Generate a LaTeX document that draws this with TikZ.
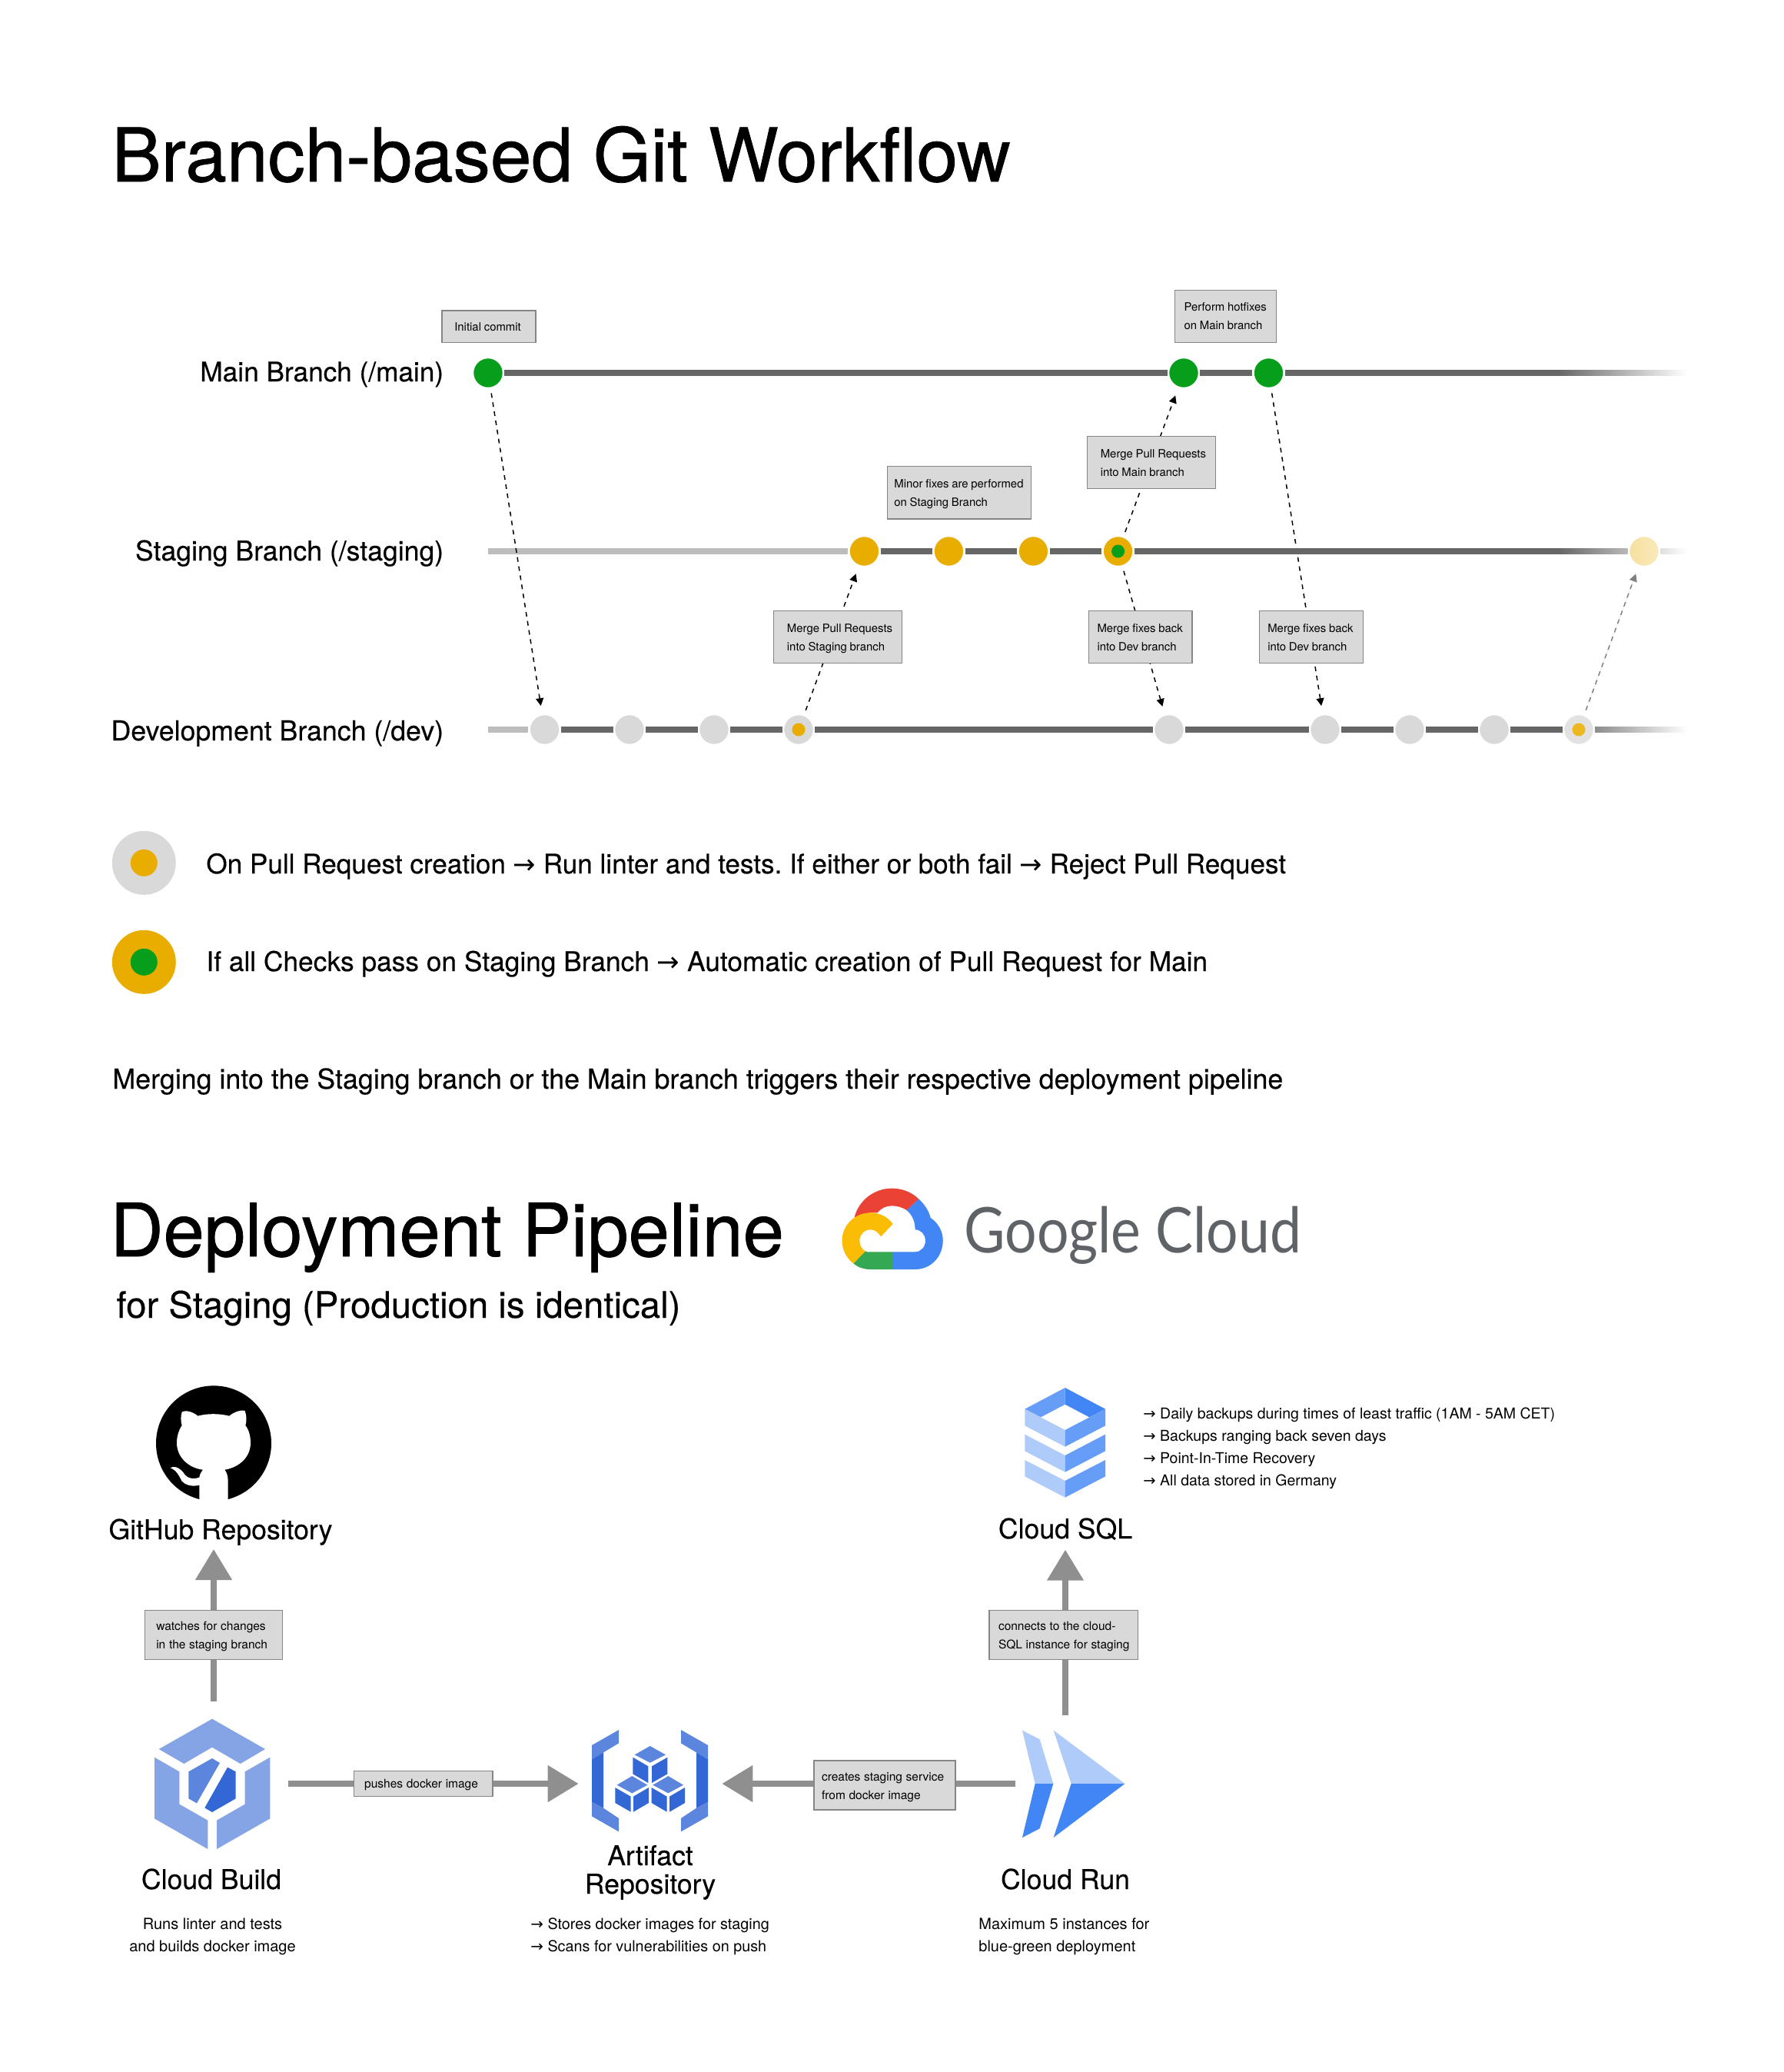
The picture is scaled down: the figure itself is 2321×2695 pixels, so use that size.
\documentclass[tikz,border=0pt]{standalone}
\usepackage{fontspec}
\setmainfont{TeX Gyre Heros}
\newfontfamily\arwfont{DejaVu Sans}
\newfontfamily\gcfont{Lato}
\newfontfamily\titlefont[FakeBold=0.8]{TeX Gyre Heros}
\newfontfamily\medfont[FakeBold=0.3]{TeX Gyre Heros}
\usetikzlibrary{arrows.meta}
\definecolor{gitgreen}{HTML}{069E1B}
\definecolor{gityel}{HTML}{E9AD00}
\definecolor{gitgray}{HTML}{D9D9D9}
\definecolor{gitline}{HTML}{666666}
\definecolor{gitlight}{HTML}{BDBDBD}
\definecolor{pipegray}{HTML}{8F8F8F}
\definecolor{boxedge}{HTML}{868686}
\definecolor{cbl}{HTML}{85A4E6}
\definecolor{cbm}{HTML}{5C85DE}
\definecolor{cbd}{HTML}{3367D6}
\definecolor{gbl}{HTML}{AECBFA}
\definecolor{gbm}{HTML}{669DF6}
\definecolor{gbd}{HTML}{4285F4}
\definecolor{gred}{HTML}{EA4335}
\definecolor{ggreen}{HTML}{34A853}
\definecolor{gyellow}{HTML}{FBBC05}
\definecolor{ggray}{HTML}{5F6368}
\newcommand{\rarr}{{\arwfont\char"2192}}
\newcommand{\lsa}[1]{\mbox{\rule[-2.75pt]{0pt}{11pt}#1}}
\newcommand{\lsb}[1]{\mbox{\rule[-3pt]{0pt}{12pt}#1}}
\newcommand{\gitf}{\fontsize{7.45}{11}\selectfont\spaceskip=.25em\relax}
\newcommand{\pipef}{\fontsize{7.75}{12}\selectfont\spaceskip=.3em\relax}
% name, x0, y0, W, H, pad, text (all px)
\newcommand{\lbox}[7]{%
  \pgfmathsetmacro\lbtw{(#4-2*#6)/2}%
  \node[lbox,anchor=north west,minimum width=#4*0.5pt,minimum height=#5*0.5pt,inner xsep=#6*0.5pt,text width=\lbtw pt] (#1) at (#2,#3) {#7};}
\tikzset{
  lbox/.style={rectangle,draw=boxedge,fill=gitgray,line width=0.7pt,inner ysep=0pt,align=left,outer sep=0pt},
  txt/.style={inner sep=0pt,anchor=base west},
  ctxt/.style={inner sep=0pt,anchor=base},
  rtxt/.style={inner sep=0pt,anchor=base east},
  iconlabel/.style={font=\fontsize{17.8}{18.5}\selectfont\medfont},
  small/.style={font=\fontsize{10}{14.5}\selectfont},
  commit/.style={circle,minimum size=20pt,inner sep=0pt,line width=1.25pt,draw=white,fill=#1},
  innerdot/.style={circle,minimum size=8.5pt,inner sep=0pt,fill=#1},
  branchline/.style={line width=4pt,color=gitline},
  lightline/.style={line width=4pt,color=gitlight},
  mergearrow/.style={line width=0.75pt,dash pattern=on 3pt off 3pt,shorten <=2.75pt,shorten >=5pt,
    -{Triangle[length=5pt,width=5pt]}},
  pipearrow/.style={line width=4pt,color=pipegray,-{Triangle[length=20pt,width=23pt]}},
}
\begin{document}
\begin{tikzpicture}[x=0.5pt,y=-0.5pt]
\useasboundingbox (0,0) rectangle (2321,2695);
\fill[white] (0,0) rectangle (2321,2695);

% titles
\node[txt,font=\fontsize{48.2}{58}\selectfont\titlefont] (title1) at (145,236) {Branch-based Git Workflow};
\node[rtxt,font=\fontsize{17.6}{21}\selectfont\medfont] (lmain) at (577.5,496) {Main Branch (/main)};
\node[rtxt,font=\fontsize{17.8}{21}\selectfont\medfont] (lstag) at (577.5,729) {Staging Branch (/staging)};
\node[rtxt,font=\fontsize{17.85}{21}\selectfont\medfont] (ldev) at (577.5,963) {Development Branch (/dev)};

% commits
\node[commit=gitgreen] (m1) at (635,485) {};
\node[commit=gitgreen] (m2) at (1540,485) {};
\node[commit=gitgreen] (m3) at (1650.5,485) {};
\node[commit=gityel] (s1) at (1124.4,717) {};
\node[commit=gityel] (s2) at (1234.4,717) {};
\node[commit=gityel] (s3) at (1344.4,717) {};
\node[commit=gityel] (s4) at (1454.6,717) {};
\node[innerdot=gitgreen] (s4i) at (1454.6,717) {};
\node[circle,minimum size=20pt,inner sep=0pt,line width=1.25pt,draw=white,left color=gityel!38!white,right color=gityel!26!white] (s5) at (2139,717) {};
\node[commit=gitgray] (d1) at (708.6,949) {};
\node[commit=gitgray] (d2) at (819,949) {};
\node[commit=gitgray] (d3) at (929,949) {};
\node[commit=gitgray] (d4) at (1039,949) {};
\node[innerdot=gityel] (d4i) at (1039,949) {};
\node[commit=gitgray] (d5) at (1521,949) {};
\node[commit=gitgray] (d6) at (1724,949) {};
\node[commit=gitgray] (d7) at (1834,949) {};
\node[commit=gitgray] (d8) at (1944,949) {};
\node[commit=gitgray!75!white] (d9) at (2054,949) {};
\node[innerdot=gityel!88!white] (d9i) at (2054,949) {};

% free line ends
\coordinate (sstart) at (635,717);
\coordinate (dstart) at (635,949);
\coordinate (mfadeA) at (2027,481.5);
\coordinate (mfadeB) at (2195,488.5);
\coordinate (sfadeA) at (2027,713.5);
\coordinate (sfadeB) at (2195,720.5);
\coordinate (dfadeA) at (2075.2,945.5);
\coordinate (dfadeB) at (2195,952.5);
\coordinate (mfade) at (2027.5,485);
\coordinate (sfade) at (2027.5,717);

% light lines
\draw[lightline] (sstart) -- (s1);
\draw[lightline] (dstart) -- (d1);

% merge arrows
\draw[mergearrow] (m1) -- (d1);
\draw[mergearrow] (d4) -- (s1);
\draw[mergearrow] (s4) -- (m2);
\draw[mergearrow] (s4) -- (d5);
\draw[mergearrow] (m3) -- (d6);
\draw[mergearrow,draw=black!50,fill=black!40] (d9) -- (s5);

% dark lines
\draw[branchline] (m1) -- (m2);
\draw[branchline] (m2) -- (m3);
\draw[branchline] (m3) -- (mfade);
\shade[left color=gitline,right color=white] (mfadeA) rectangle (mfadeB);
\draw[branchline] (s1) -- (s2);
\draw[branchline] (s2) -- (s3);
\draw[branchline] (s3) -- (s4);
\draw[branchline] (s4) -- (sfade);
\begin{scope}
\clip (2027,700) rectangle (2117.5,734);
\shade[left color=gitline,right color=white] (sfadeA) rectangle (sfadeB);
\end{scope}
\begin{scope}
\clip (2160.5,700) rectangle (2195,734);
\shade[left color=gitline,right color=white] (sfadeA) rectangle (sfadeB);
\end{scope}
\draw[branchline] (d1) -- (d2);
\draw[branchline] (d2) -- (d3);
\draw[branchline] (d3) -- (d4);
\draw[branchline] (d4) -- (d5);
\draw[branchline] (d5) -- (d6);
\draw[branchline] (d6) -- (d7);
\draw[branchline] (d7) -- (d8);
\draw[branchline] (d8) -- (d9);
\shade[left color=gitline!75!white,right color=white] (dfadeA) rectangle (dfadeB);

% git boxes
\lbox{b1}{575}{404}{122}{41.5}{16.3}{\gitf\lsa{Initial commit}}
\lbox{b2}{1528.6}{377.4}{132}{68}{12}{\gitf\lsa{Perform hotfixes}\\\lsa{on Main branch}}
\lbox{b3}{1154.4}{606.3}{187}{68.5}{9}{\gitf\lsa{Minor fixes are performed}\\\lsa{on Staging Branch}}
\lbox{b4}{1414.3}{567.6}{167.3}{68}{17.5}{\gitf\lsa{Merge Pull Requests}\\\lsa{into Main branch}}
\lbox{b5}{1006.4}{794.6}{167}{68}{17.5}{\gitf\lsa{Merge Pull Requests}\\\lsa{into Staging branch}}
\lbox{b6}{1416.5}{794.6}{134.5}{68}{11}{\gitf\lsa{Merge fixes back}\\\lsa{into Dev branch}}
\lbox{b7}{1638.3}{794.6}{135.2}{68}{11}{\gitf\lsa{Merge fixes back}\\\lsa{into Dev branch}}

% legend
\node[circle,minimum size=41.5pt,inner sep=0pt,fill=gitgray] (leg1) at (187.3,1122.3) {};
\node[circle,minimum size=17.5pt,inner sep=0pt,fill=gityel] (leg1i) at (187.3,1122.3) {};
\node[circle,minimum size=41.5pt,inner sep=0pt,fill=gityel] (leg2) at (187.3,1251.3) {};
\node[circle,minimum size=17.5pt,inner sep=0pt,fill=gitgreen] (leg2i) at (187.3,1251.3) {};
\node[txt,font=\fontsize{17.55}{22}\selectfont\medfont\frenchspacing] (legt1) at (268,1136) {On Pull Request creation \rarr{} Run linter and tests. If either or both fail \rarr{} Reject Pull Request};
\node[txt,font=\fontsize{17.65}{22}\selectfont\medfont] (legt2) at (268,1263) {If all Checks pass on Staging Branch \rarr{} Automatic creation of Pull Request for Main};
\node[txt,font=\fontsize{17.9}{22}\selectfont\medfont] (legt3) at (146,1416) {Merging into the Staging branch or the Main branch triggers their respective deployment pipeline};

\node[txt,font=\fontsize{47.9}{58}\selectfont\titlefont] (title2) at (143,1634) {Deployment Pipeline};
\node[txt,font=\fontsize{23.7}{28}\selectfont\medfont] (sub2) at (151,1714) {for Staging (Production is identical)};

% Google Cloud logo
\begin{scope}[shift={(1050,1500)},x=0.2232pt,y=-0.16667pt]
\fill[gbd] (325,178) .. controls (342,198) and (355,225) .. (360,252) .. controls (382,272) and (396,305) .. (396,340) .. controls (396,402) and (362,453) .. (315,453) -- (249,453) -- (249,385) -- (315,385) .. controls (332,385) and (345,365) .. (345,340) .. controls (345,318) and (332,298) .. (315,298) .. controls (315,265) and (306,240) .. (290,222) -- cycle;
\fill[gred] (138,250) .. controls (150,185) and (195,137) .. (247,137) .. controls (278,137) and (305,152) .. (325,178) -- (290,222) .. controls (278,211) and (262,205) .. (247,205) .. controls (230,205) and (215,215) .. (205,232) -- (185,232) -- cycle;
\fill[ggreen] (249,385) -- (249,453) -- (185,453) .. controls (165,453) and (148,445) .. (135,430) -- (170,382) -- (175,385) -- cycle;
\fill[gyellow] (185,232) .. controls (212,232) and (235,248) .. (250,276) -- (215,325) .. controls (207,308) and (197,298) .. (185,298) .. controls (167,298) and (153,317) .. (153,340) .. controls (153,360) and (160,375) .. (170,382) -- (135,430) .. controls (115,410) and (102,377) .. (102,340) .. controls (102,280) and (140,232) .. (185,232) -- cycle;
\end{scope}
\node[txt,font=\fontsize{41}{48}\selectfont\gcfont,text=ggray] (gc) at (1254,1629) {\scalebox{0.894}[1]{Google Cloud}};

% GitHub
\begin{scope}[shift={(120,1780)},x=0.16667pt,y=-0.16667pt]
\fill[black] (474,292) circle (225);
\fill[white] (350,170) .. controls (365,160) and (395,170) .. (412,185) .. controls (450,175) and (495,175) .. (535,185) .. controls (552,170) and (580,160) .. (596,165) .. controls (603,185) and (603,205) .. (598,222) .. controls (612,240) and (618,265) .. (618,290) .. controls (618,345) and (575,385) .. (517,395) .. controls (525,405) and (530,420) .. (530,440) -- (530,530) -- (418,530) -- (418,455) .. controls (390,462) and (365,455) .. (350,440) .. controls (340,420) and (328,395) .. (305,388) .. controls (325,375) and (350,395) .. (362,415) .. controls (375,430) and (395,432) .. (418,425) .. controls (420,412) and (425,403) .. (432,395) .. controls (375,388) and (330,345) .. (330,290) .. controls (330,265) and (338,240) .. (350,222) .. controls (345,205) and (345,185) .. (350,170) -- cycle;
\end{scope}
\node[ctxt,iconlabel] (lgh) at (287,2002) {GitHub Repository};

% Cloud SQL icon
\begin{scope}[shift={(1300,1780)},x=0.16667pt,y=-0.16667pt]
\fill[gbm] (100,158) -- (257,75) -- (257,140) -- (162,190) -- cycle;
\fill[gbd] (257,75) -- (414,158) -- (352,190) -- (257,140) -- cycle;
\fill[gbl] (100,158) -- (257,240) -- (257,305) -- (100,223) -- cycle;
\fill[gbm] (257,240) -- (414,158) -- (414,223) -- (257,305) -- cycle;
\fill[gbl] (100,257) -- (257,339) -- (257,404) -- (100,322) -- cycle;
\fill[gbm] (257,339) -- (414,257) -- (414,322) -- (257,404) -- cycle;
\fill[gbl] (100,357) -- (257,438) -- (257,503) -- (100,421) -- cycle;
\fill[gbm] (257,438) -- (414,357) -- (414,421) -- (257,503) -- cycle;
\end{scope}
\node[ctxt,iconlabel] (lsql) at (1386,2001) {Cloud SQL};
\node[txt,font=\fontsize{9.75}{14.5}\selectfont] (n1) at (1487,1845) {\rarr{} Daily backups during times of least traffic (1AM - 5AM CET)};
\node[txt,font=\fontsize{9.75}{14.5}\selectfont] (n2) at (1487,1874) {\rarr{} Backups ranging back seven days};
\node[txt,font=\fontsize{9.75}{14.5}\selectfont] (n3) at (1487,1903) {\rarr{} Point-In-Time Recovery};
\node[txt,font=\fontsize{9.75}{14.5}\selectfont] (n4) at (1487,1932) {\rarr{} All data stored in Germany};

% Cloud Build icon
\begin{scope}[shift={(170,2220)},x=0.16667pt,y=-0.16667pt]
\fill[cbl] (318,47) -- (525,165) -- (428,222) -- (318,158) -- (208,222) -- (110,165) -- cycle;
\fill[cbl] (93,197) -- (190,253) -- (190,380) -- (301,443) -- (301,555) -- (93,436) -- cycle;
\fill[cbl] (544,197) -- (544,436) -- (336,555) -- (336,443) -- (446,380) -- (446,253) -- cycle;
\fill[cbm] (318,201) -- (348,219) -- (258,376) -- (226,358) -- (226,253) -- cycle;
\fill[cbd] (378,236) -- (410,253) -- (410,358) -- (318,411) -- (289,394) -- cycle;
\end{scope}
\node[ctxt,iconlabel] (lcb) at (275,2457) {Cloud Build};
\node[ctxt,small] (dcb1) at (276.5,2509) {Runs linter and tests};
\node[ctxt,small] (dcb2) at (276.5,2538) {and builds docker image};

% Artifact icon
\begin{scope}[shift={(740,2220)},x=0.16667pt,y=-0.16667pt]
\fill[cbm] (90,150) -- (195,90) -- (195,142) -- (135,178) -- (90,205) -- cycle;
\fill[cbd] (90,205) -- (135,178) -- (135,395) -- (90,372) -- cycle;
\fill[cbm] (90,372) -- (135,395) -- (195,435) -- (195,487) -- (90,427) -- cycle;
\fill[cbm] (543,150) -- (438,90) -- (438,142) -- (498,178) -- (543,205) -- cycle;
\fill[cbd] (543,205) -- (498,178) -- (498,395) -- (543,372) -- cycle;
\fill[cbm] (543,372) -- (498,395) -- (438,435) -- (438,487) -- (543,427) -- cycle;
\fill[cbm] (317,153) -- (378,187) -- (317,218) -- (257,187) -- cycle;
\fill[cbd] (250,197) -- (310,232) -- (310,297) -- (250,262) -- cycle;
\fill[cbd] (324,232) -- (385,197) -- (385,262) -- (324,297) -- cycle;
\fill[cbm] (247,270) -- (307,305) -- (247,337) -- (188,305) -- cycle;
\fill[cbd] (181,315) -- (242,350) -- (242,410) -- (181,375) -- cycle;
\fill[cbd] (252,350) -- (312,315) -- (312,375) -- (252,410) -- cycle;
\fill[cbm] (388,270) -- (447,305) -- (388,337) -- (328,305) -- cycle;
\fill[cbd] (323,315) -- (383,350) -- (383,410) -- (323,375) -- cycle;
\fill[cbd] (393,350) -- (453,315) -- (453,375) -- (393,410) -- cycle;
\end{scope}
\node[ctxt,iconlabel] (lar1) at (846,2426) {Artifact};
\node[ctxt,iconlabel] (lar2) at (846,2463) {Repository};
\node[txt,font=\fontsize{9.9}{14.5}\selectfont] (dar1) at (690,2509) {\rarr{} Stores docker images for staging};
\node[txt,font=\fontsize{9.9}{14.5}\selectfont] (dar2) at (690,2538) {\rarr{} Scans for vulnerabilities on push};

% Cloud Run icon
\begin{scope}[shift={(1300,2230)},x=0.16667pt,y=-0.16667pt]
\fill[gbl] (90,62) -- (158,97) -- (211,270) -- (140,270) -- cycle;
\fill[gbd] (140,270) -- (211,270) -- (158,445) -- (90,480) -- cycle;
\fill[gbl] (212,62) -- (490,270) -- (281,270) -- cycle;
\fill[gbd] (281,270) -- (490,270) -- (212,480) -- cycle;
\end{scope}
\node[ctxt,iconlabel] (lcr) at (1386,2457) {Cloud Run};
\node[txt,small] (dcr1) at (1273,2509) {Maximum 5 instances for};
\node[txt,small] (dcr2) at (1273,2538) {blue-green deployment};

% pipeline connectors
\coordinate (cbout) at (278,2213);
\coordinate (ghin) at (278,2015);
\coordinate (cboutr) at (375,2320);
\coordinate (arinl) at (752.7,2320);
\coordinate (crouttl) at (1321,2320);
\coordinate (arinr) at (939.3,2320);
\coordinate (crout) at (1386,2231);
\coordinate (sqlin) at (1386,2015.7);
\draw[pipearrow] (cbout) -- (ghin);
\draw[pipearrow] (cboutr) -- (arinl);
\draw[pipearrow] (crouttl) -- (arinr);
\draw[pipearrow] (crout) -- (sqlin);

\lbox{p1}{188.3}{2094.3}{179.4}{64}{15}{\pipef\lsb{watches for changes}\\\lsb{in the staging branch}}
\lbox{p2}{1287}{2094.3}{193.6}{64}{12}{\pipef\lsb{connects to the cloud-}\\\lsb{SQL instance for staging}}
\lbox{p3}{460.7}{2303.5}{180.3}{33}{13.5}{\pipef\lsa{pushes docker image}}
\lbox{p4}{1059}{2290}{184}{64}{10}{\pipef\lsb{creates staging service}\\\lsb{from docker image}}
\end{tikzpicture}
\end{document}
